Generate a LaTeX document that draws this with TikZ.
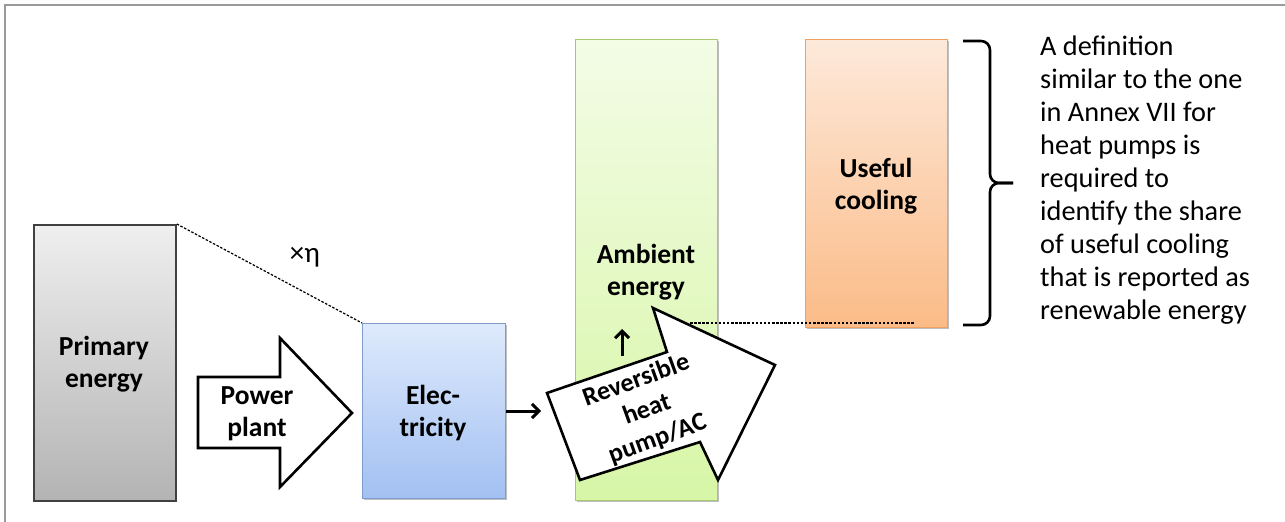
\documentclass[tikz,border=0pt]{standalone}
\usepackage{fontspec}
\setmainfont{Carlito}
\usetikzlibrary{arrows.meta,shadows}
\definecolor{frameg}{HTML}{9A9A9A}
\definecolor{primtop}{HTML}{EFEFEF}
\definecolor{primbot}{HTML}{B3B3B3}
\definecolor{primdraw}{HTML}{404040}
\definecolor{electop}{HTML}{DEEAFC}
\definecolor{elecbot}{HTML}{A2C0F2}
\definecolor{elecdraw}{HTML}{7E9CCC}
\definecolor{ambtop}{HTML}{F3FCE6}
\definecolor{ambbot}{HTML}{D7F6A6}
\definecolor{ambdraw}{HTML}{A8C86E}
\definecolor{usetop}{HTML}{FDE9DA}
\definecolor{usebot}{HTML}{FBBB87}
\definecolor{usedraw}{HTML}{F0A060}
\tikzset{
  boxlabel/.style={align=center, inner sep=0pt, font=\fontsize{27.5}{32}\selectfont\bfseries},
  colbox/.style={draw, line width=1.3pt, anchor=north west, inner sep=0pt,
     drop shadow={shadow xshift=1.5pt, shadow yshift=-1.5pt, opacity=0.25, fill=black}},
  bigarrow/.style={draw=black, fill=white, line width=2.6pt, line join=miter},
  smallarrow/.style={line width=3pt, -{Straight Barb[length=7pt,width=14pt,line width=3pt]}},
  dotline/.style={line width=1.2pt, dash pattern=on 2.5pt off 1.6pt},
  bracestyle/.style={line width=2.6pt, rounded corners=9pt},
}
\begin{document}
\begin{tikzpicture}[x=1pt,y=-1pt]
\useasboundingbox (0,0) rectangle (1285,522);
% frame
\draw[frameg, line width=2pt] (5,522) -- (5,5) -- (1285,5);

% boxes
\node[colbox, draw=primdraw, line width=1.8pt, top color=primtop, bottom color=primbot,
      minimum width=142pt, minimum height=276pt] (prim) at (33,224) {};
\node[colbox, draw=elecdraw, top color=electop, bottom color=elecbot,
      minimum width=143pt, minimum height=175pt] (elec) at (362,323) {};
\node[colbox, draw=ambdraw, top color=ambtop, bottom color=ambbot,
      minimum width=142pt, minimum height=461pt] (amb) at (575,39) {};
\node[colbox, draw=usedraw, top color=usetop, bottom color=usebot,
      minimum width=142pt, minimum height=288pt] (use) at (805,39) {};

\node[boxlabel] (primtext) at (104,364) {Primary\\energy};
\node[boxlabel] (electext) at (433,413) {Elec-\\tricity};
\node[boxlabel] (usetext) at (876,186) {Useful\\cooling};
\node[boxlabel] (ambtext) at (646,272) {Ambient\\energy};

% power plant arrow
\draw[bigarrow] (198,377) -- (280,377) -- (280,338) -- (352,413) -- (280,487) -- (280,448) -- (198,448) -- cycle;
\node[boxlabel] (pptext) at (257,414) {Power\\plant};

% efficiency line
\draw[dotline] (prim.north east) -- (elec.north west);
\node[font=\fontsize{29}{32}\selectfont, inner sep=0pt] (eta) at (305,257) {×η};

% heat pump arrow
\draw[bigarrow] (580,480) -- (547,393) -- (667,352) -- (653,308) -- (775,365) -- (718,480) -- (700,442) -- cycle;
\node[boxlabel, font=\fontsize{26}{31}\selectfont\bfseries, rotate=20] (hptext) at (647,410) {Reversible\\heat\\pump/AC};

% small arrows
\coordinate (hptail) at (541,411);
\draw[smallarrow] (elec.east |- hptail) -- (hptail);
\coordinate (upbot) at (622,356);
\coordinate (uptop) at (622,329);
\draw[smallarrow] (upbot) -- (uptop);

% dashed level line
\coordinate (lvla) at (690,323);
\coordinate (lvlb) at (915,323);
\draw[dotline] (lvla) -- (lvlb);

% brace
\draw[bracestyle] (963,41) -- (990,41) -- (990,183) -- (1013,183);
\draw[bracestyle] (1013,183) -- (990,183) -- (990,325) -- (963,325);

% explanation
\node[anchor=north west, align=left, inner sep=0pt, font=\fontsize{28.3}{32.9}\selectfont] (expl) at (1040,36)
{A definition\\similar to the one\\in Annex VII for\\heat pumps is\\required to\\identify the share\\of useful cooling\\that is reported as\\renewable energy};
\end{tikzpicture}
\end{document}
